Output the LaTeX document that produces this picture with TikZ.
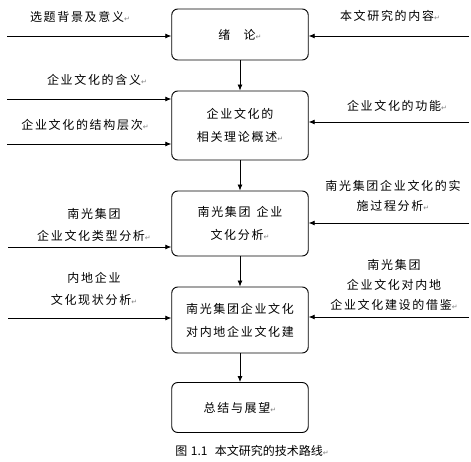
\documentclass[tikz,border=0pt]{standalone}
\usepackage{fontspec}
\setmainfont{Noto Sans CJK SC}
\newfontfamily\cjk[LetterSpace=14]{Noto Sans CJK SC}
\newfontfamily\capfont{Noto Sans CJK SC}
\newfontfamily\dvfont{DejaVu Sans}
\usetikzlibrary{arrows.meta}
\newcommand\retmark{{\dvfont\fontsize{7}{7}\selectfont\color{gray}↵}}
\tikzset{
  box/.style={draw, rounded corners=6pt, line width=0.9pt, minimum width=136.5pt,
    align=center, inner sep=0pt, font=\cjk\fontsize{12}{23}\selectfont},
  lab/.style={align=center, inner sep=0pt, font=\cjk\fontsize{12}{22.5}\selectfont},
  labr/.style={align=center, inner sep=0pt, font=\cjk\fontsize{12}{20.3}\selectfont},
  arr/.style={-{Latex[length=6pt,width=5pt]}, line width=0.8pt},
}
\begin{document}
\begin{tikzpicture}[x=1pt,y=-1pt]
\useasboundingbox (0,0) rectangle (471,462);
% boxes
\node[box, minimum height=51pt] (b1) at (240,34.5) {绪\hspace{1.1em}论\retmark};
\node[box, minimum height=69pt] (b2) at (240,125.5) {企业文化的\\相关理论概述\retmark};
\node[box, minimum height=65pt] (b3) at (240,223.5) {南光集团\hspace{0.5em}企业\\文化分析\retmark};
\node[box, minimum height=66pt] (b4) at (240,320) {南光集团企业文化\\对内地企业文化建};
\node[box, minimum height=50pt] (b5) at (240,407.5) {总结与展望\retmark};
% vertical arrows
\draw[arr] (b1) -- (b2);
\draw[arr] (b2) -- (b3);
\draw[arr] (b3) -- (b4);
\draw[arr] (b4) -- (b5);
% left inputs
\coordinate (l1) at (7,36);
\coordinate (l2) at (7,99);
\coordinate (l3) at (7,144);
\coordinate (l4) at (8,247);
\coordinate (l5) at (8,318);
\draw[arr] (l1) -- (l1 -| b1.west);
\draw[arr] (l2) -- (l2 -| b2.west);
\draw[arr] (l3) -- (l3 -| b2.west);
\draw[arr] (l4) -- (l4 -| b3.west);
\draw[arr] (l5) -- (l5 -| b4.west);
% right inputs
\coordinate (r1) at (469,36);
\coordinate (r2) at (469,122);
\coordinate (r3) at (469,223);
\coordinate (r4) at (469,317);
\draw[arr] (r1) -- (r1 -| b1.east);
\draw[arr] (r2) -- (r2 -| b2.east);
\draw[arr] (r3) -- (r3 -| b3.east);
\draw[arr] (r4) -- (r4 -| b4.east);
% labels left
\node[lab] (t1) at (80,17) {选题背景及意义\retmark};
\node[lab] (t2) at (97,80) {企业文化的含义\retmark};
\node[lab] (t3) at (85,125) {企业文化的结构层次\retmark};
\node[lab] (t4) at (94,225) {南光集团\\企业文化类型分析\retmark};
\node[lab] (t5) at (94,289) {内地企业\\文化现状分析\retmark};
% labels right
\node[lab] (s1) at (390,16) {本文研究的内容\retmark};
\node[lab] (s2) at (397,106) {企业文化的功能\retmark};
\node[labr] (s3) at (393,196) {南光集团企业文化的实\\施过程分析\retmark};
\node[labr] (s4) at (394,285) {南光集团\\企业文化对内地\\企业文化建设的借鉴\retmark};
% caption
\node[inner sep=0pt, font=\capfont\fontsize{12}{12}\selectfont] (cap) at (252,451) {图\hspace{0.3em}1.1\hspace{0.6em}本文研究的技术路线\retmark};
\end{tikzpicture}
\end{document}
